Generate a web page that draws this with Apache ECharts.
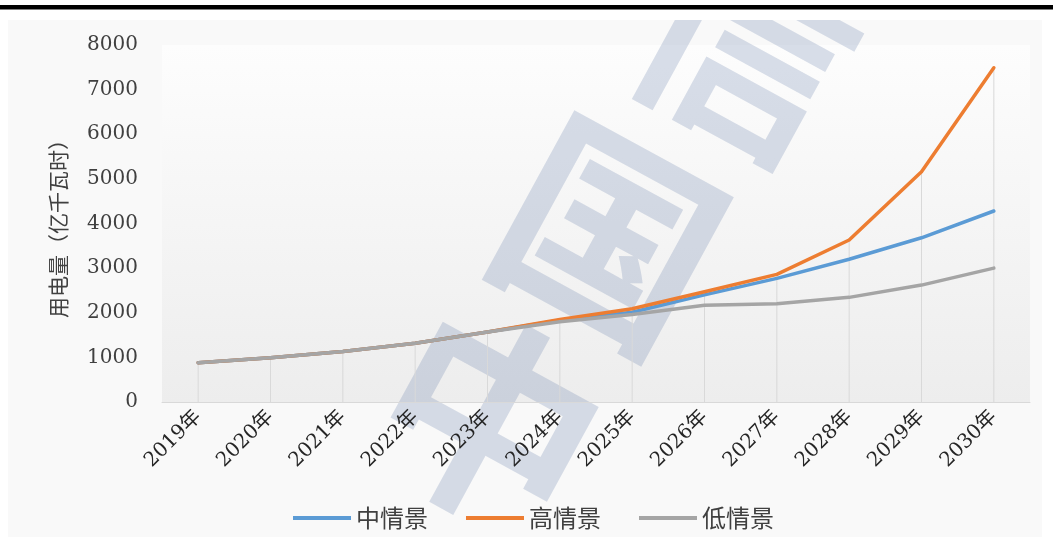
<!DOCTYPE html>
<html>
<head>
<meta charset="utf-8">
<title>用电量情景预测</title>
<script src="https://cdn.jsdelivr.net/npm/echarts@6/dist/echarts.min.js"></script>
<style>
  html, body { margin: 0; padding: 0; background: #ffffff; }
  #chart { width: 1057px; height: 541px; }
</style>
</head>
<body>
<div id="chart"></div>
<script>
// Categories (years)
const years = ['2019年', '2020年', '2021年', '2022年', '2023年', '2024年',
               '2025年', '2026年', '2027年', '2028年', '2029年', '2030年'];

// Electricity use, 亿千瓦时
const midCase  = [880, 990, 1130, 1315, 1570, 1830, 2010, 2400, 2770, 3200, 3680, 4280];
const highCase = [880, 990, 1130, 1315, 1570, 1850, 2090, 2470, 2860, 3630, 5160, 7490];
const lowCase  = [880, 990, 1130, 1315, 1570, 1800, 1960, 2170, 2200, 2345, 2620, 3000];

const seriesNames = ['中情景', '高情景', '低情景'];

// Y axis range
const yMin = 0;
const yMax = 8000;
const yStep = 1000;

// Drop lines run from the highest scenario down to the category axis
const dropLine = years.map((_, i) => Math.max(midCase[i], highCase[i], lowCase[i]));

const serifFont = '"DejaVu Serif", "Noto Sans CJK SC", serif';
const cjkFont = '"Noto Sans CJK SC", sans-serif';

const chart = echarts.init(document.getElementById('chart'), null, { renderer: 'canvas' });

const lineSeries = (name, data, color) => ({
  name: name,
  type: 'line',
  data: data,
  symbol: 'none',
  smooth: false,
  z: 3,
  lineStyle: { color: color, width: 3.5, cap: 'round', join: 'round' },
  itemStyle: { color: color }
});

const markStyle = {
  fontSize: 215, fontWeight: 'bold', fontFamily: cjkFont,
  fill: 'rgba(110,130,175,0.26)', align: 'center', verticalAlign: 'middle'
};

chart.setOption({
  animation: false,
  backgroundColor: 'transparent',
  grid: {
    left: 162, right: 27, top: 45, bottom: 139,
    show: true,
    borderWidth: 0,
    backgroundColor: new echarts.graphic.LinearGradient(0, 0, 0, 1, [
      { offset: 0, color: '#fdfdfd' },
      { offset: 1, color: '#ededed' }
    ])
  },
  legend: {
    data: seriesNames,
    left: 293,
    top: 505,
    padding: 0,
    icon: 'rect',
    itemWidth: 58,
    itemHeight: 4,
    itemGap: 38,
    textStyle: { fontFamily: cjkFont, fontSize: 24, color: '#404040', lineHeight: 26 }
  },
  xAxis: {
    type: 'category',
    data: years,
    boundaryGap: true,
    axisLine: { show: true, lineStyle: { color: '#d9d9d9', width: 1 } },
    axisTick: { show: false },
    splitLine: { show: false },
    axisLabel: {
      interval: 0,
      rotate: 45,
      margin: 12,
      fontFamily: serifFont,
      fontSize: 20,
      color: '#262626'
    }
  },
  yAxis: {
    type: 'value',
    min: yMin,
    max: yMax,
    interval: yStep,
    axisLine: { show: false },
    axisTick: { show: false },
    splitLine: { show: false },
    axisLabel: {
      margin: 24,
      fontFamily: serifFont,
      fontSize: 20,
      color: '#404040',
      formatter: (v) => String(v)
    },
    name: '用电量（亿千瓦时）',
    nameLocation: 'middle',
    nameRotate: 90,
    nameGap: 93,
    nameTextStyle: { fontFamily: cjkFont, fontSize: 21, color: '#404040' }
  },
  series: [
    {
      name: 'drop',
      type: 'bar',
      data: dropLine,
      barWidth: 1,
      silent: true,
      z: 1,
      itemStyle: { color: '#d9d9d9' }
    },
    lineSeries(seriesNames[0], midCase, '#5b9bd5'),
    lineSeries(seriesNames[1], highCase, '#ed7d31'),
    lineSeries(seriesNames[2], lowCase, '#a5a5a5')
  ],
  graphic: [
    // chart area panel
    {
      type: 'rect', z: -5, silent: true,
      shape: { x: 8, y: 20, width: 1034, height: 517 },
      style: { fill: '#f9f9f9' }
    },
    // faint publisher mark across the plot
    {
      type: 'group', z: 10, silent: true,
      children: [
        { type: 'text', x: 490, y: 420, rotation: -0.5, style: Object.assign({ text: '中' }, markStyle) },
        { type: 'text', x: 610, y: 235, rotation: -0.5, style: Object.assign({ text: '国' }, markStyle) },
        { type: 'text', x: 745, y: 45, rotation: -0.5, style: Object.assign({ text: '信' }, markStyle) }
      ]
    },
    // white margin above the panel
    {
      type: 'rect', z: 11, silent: true,
      shape: { x: 0, y: 0, width: 1057, height: 20 },
      style: { fill: '#ffffff' }
    },
    // top rule
    {
      type: 'rect', z: 12, silent: true,
      shape: { x: 0, y: 5, width: 1053, height: 4.5 },
      style: { fill: '#000000' }
    }
  ]
});
</script>
</body>
</html>
